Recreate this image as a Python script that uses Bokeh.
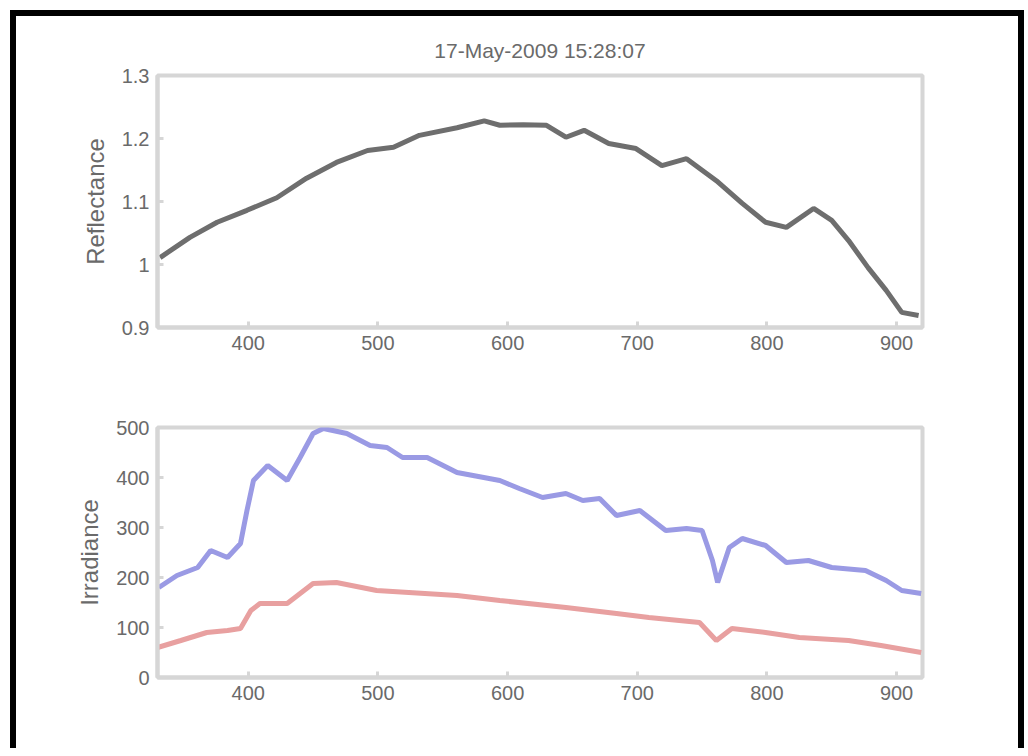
from bokeh.plotting import figure
from bokeh.layouts import column
from bokeh.models import Range1d, FixedTicker, Title
from bokeh.embed import file_html
from bokeh.resources import INLINE

# ---- data ----
title_text = "17-May-2009 15:28:07"

refl_wl = [332, 355, 376, 399, 422, 445, 468, 492, 512, 532, 561, 582, 594, 612, 630,
           645, 659, 678, 699, 719, 738, 761, 781, 799, 815, 836, 850, 863, 878, 892, 904, 917]
refl_val = [1.011, 1.043, 1.067, 1.086, 1.106, 1.137, 1.162, 1.181, 1.186, 1.205, 1.217, 1.228,
            1.221, 1.222, 1.221, 1.202, 1.213, 1.192, 1.184, 1.157, 1.168, 1.133, 1.097, 1.067,
            1.059, 1.089, 1.070, 1.038, 0.995, 0.959, 0.924, 0.919]

blue_wl = [331, 345, 361, 371, 384, 394, 399, 404, 415, 430, 440, 450, 458, 476, 494, 507, 519,
           538, 561, 594, 609, 627, 645, 658, 671, 684, 702, 722, 738, 750, 758, 762, 771, 781,
           799, 815, 832, 850, 876, 892, 904, 919]
blue_val = [180, 204, 220, 254, 240, 268, 334, 394, 424, 394, 440, 488, 498, 488, 464, 460, 440,
            440, 410, 394, 378, 360, 368, 354, 358, 324, 334, 294, 298, 294, 234, 190, 260, 278,
            264, 230, 234, 220, 214, 194, 174, 168]

red_wl = [330, 348, 368, 384, 394, 402, 409, 430, 440, 450, 468, 499, 561, 594, 645, 684, 709,
          748, 761, 773, 799, 825, 863, 888, 919]
red_val = [60, 74, 90, 94, 98, 134, 148, 148, 168, 188, 190, 174, 164, 154, 140, 128, 120,
           110, 74, 98, 90, 80, 74, 64, 50]

x_ticks = [400, 500, 600, 700, 800, 900]
x_tick_labels = ["400", "500", "600", "700", "800", "900"]
top_y_ticks = [0.9, 1.0, 1.1, 1.2, 1.3]
top_y_tick_labels = ["0.9", "1", "1.1", "1.2", "1.3"]
bot_y_ticks = [0, 100, 200, 300, 400, 500]
bot_y_tick_labels = ["0", "100", "200", "300", "400", "500"]

FONT = "Liberation Sans"
TXT = "#6a6a6a"
AX = "#d6d6d6"


def style(p, yticks, ylabels, ylabel):
    p.xaxis.ticker = FixedTicker(ticks=x_ticks)
    p.xaxis.major_label_overrides = {t: l for t, l in zip(x_ticks, x_tick_labels)}
    p.yaxis.ticker = FixedTicker(ticks=yticks)
    p.yaxis.major_label_overrides = {t: l for t, l in zip(yticks, ylabels)}
    p.xgrid.visible = False
    p.ygrid.visible = False
    for ax in (p.xaxis[0], p.yaxis[0]):
        ax.axis_line_color = AX
        ax.axis_line_width = 4
        ax.major_tick_line_color = AX
        ax.major_tick_line_width = 3
        ax.major_tick_in = 6
        ax.major_tick_out = 0
        ax.minor_tick_line_color = None
        ax.major_label_text_font = FONT
        ax.major_label_text_font_size = "20px"
        ax.major_label_text_color = TXT
        ax.major_label_standoff = 8
        ax.axis_label_text_font = FONT
        ax.axis_label_text_font_size = "24px"
        ax.axis_label_text_font_style = "normal"
        ax.axis_label_text_color = TXT
    p.yaxis.axis_label = ylabel
    p.yaxis.axis_label_standoff = 10
    p.outline_line_color = AX
    p.outline_line_width = 4
    p.background_fill_color = "white"
    p.border_fill_color = "white"


p1 = figure(width=1002, height=384, output_backend="svg", toolbar_location=None,
            x_range=Range1d(330, 920), y_range=Range1d(0.9, 1.3),
            min_border_left=141, min_border_right=96, min_border_top=59, min_border_bottom=73)
p1.title = Title(text=title_text, align="center", text_font=FONT, text_font_size="21px",
                 text_font_style="normal", text_color=TXT, standoff=27)
p1.line(refl_wl, refl_val, line_color="#6e6e6e", line_width=5)
style(p1, top_y_ticks, top_y_tick_labels, "Reflectance")

p2 = figure(width=1002, height=348, output_backend="svg", toolbar_location=None,
            x_range=Range1d(330, 920), y_range=Range1d(0, 500),
            min_border_left=141, min_border_right=96, min_border_top=27, min_border_bottom=71)
p2.line(blue_wl, blue_val, line_color="#9a9ae4", line_width=5)
p2.line(red_wl, red_val, line_color="#e8a0a0", line_width=5)
style(p2, bot_y_ticks, bot_y_tick_labels, "Irradiance")

layout = column(p1, p2, styles={"border-top": "6px solid black",
                                "border-left": "6px solid black",
                                "border-right": "6px solid black",
                                "margin": "10px 0 0 10px",
                                "background": "white"})

open("out.html", "w").write(file_html(layout, INLINE))
